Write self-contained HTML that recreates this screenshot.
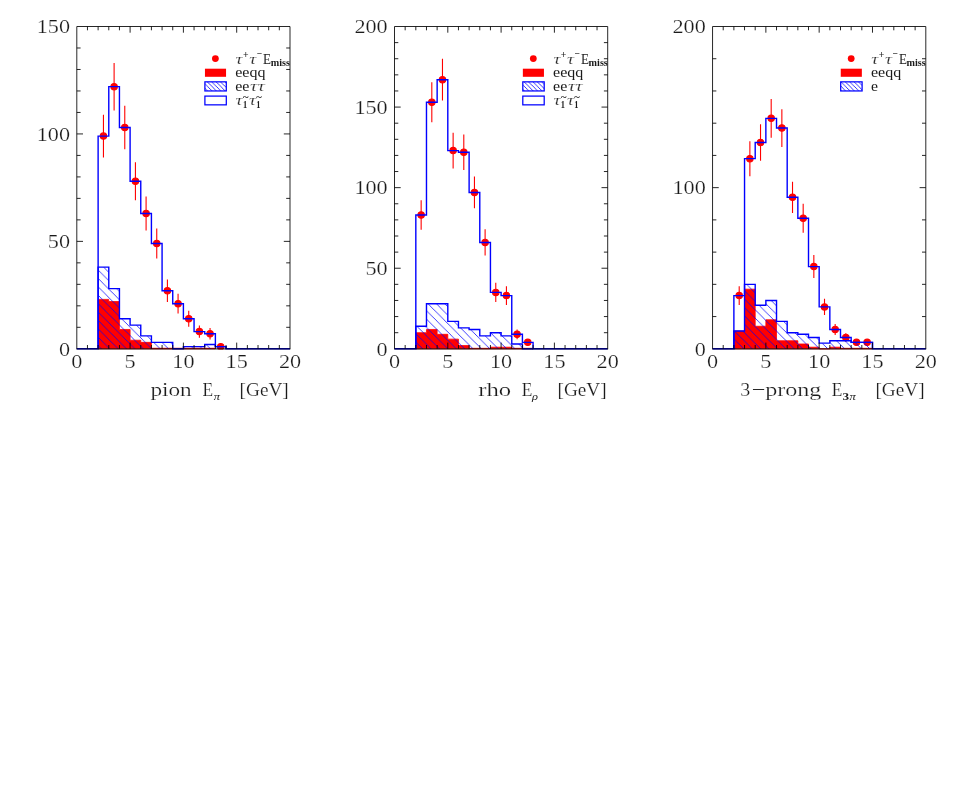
<!DOCTYPE html>
<html><head><meta charset="utf-8"><title>tau energy spectra</title>
<style>
html,body{margin:0;padding:0;background:#fff;}
body{width:953px;height:807px;overflow:hidden;}
svg{display:block;will-change:transform;}
text{font-family:"Liberation Serif",serif;fill:#1a1a1a;}
.t{stroke:#fff;stroke-width:0.2px;}
.g{stroke:#fff;stroke-width:0.15px;fill:#2a2a2a;}
</style></head><body>
<svg width="953" height="807" viewBox="0 0 953 807">
<defs>
<pattern id="h0" patternUnits="userSpaceOnUse" x="0" y="3.9" width="8.4" height="8.4"><path d="M-1 -1 L9.4 9.4 M-1 7.4 L1 9.4 M7.4 -1 L9.4 1" stroke="#0000ff" stroke-width="0.75" fill="none"/></pattern>
<pattern id="h1" patternUnits="userSpaceOnUse" x="0" y="1.77" width="8.4" height="8.4"><path d="M-1 -1 L9.4 9.4 M-1 7.4 L1 9.4 M7.4 -1 L9.4 1" stroke="#0000ff" stroke-width="0.75" fill="none"/></pattern>
<pattern id="h2" patternUnits="userSpaceOnUse" x="0" y="8.2" width="8.4" height="8.4"><path d="M-1 -1 L9.4 9.4 M-1 7.4 L1 9.4 M7.4 -1 L9.4 1" stroke="#0000ff" stroke-width="0.75" fill="none"/></pattern>
<pattern id="hl" patternUnits="userSpaceOnUse" x="2.3" y="0" width="4.4" height="4.4"><path d="M-1 -1 L5.4 5.4 M-1 3.4 L1 5.4 M3.4 -1 L5.4 1" stroke="#0000ff" stroke-width="0.8" fill="none"/></pattern>
</defs>
<clipPath id="c0"><rect x="76.8" y="26.5" width="213.2" height="322.9"/></clipPath>
<g fill="#ff0000" stroke="#ff0000" stroke-width="1.1" clip-path="url(#c0)"><line x1="103.45" y1="114.7" x2="103.45" y2="157.46"/><circle cx="103.45" cy="136.08" r="3.2"/><line x1="114.11" y1="62.93" x2="114.11" y2="110.4"/><circle cx="114.11" cy="86.66" r="3.2"/><line x1="124.77" y1="105.68" x2="124.77" y2="149.29"/><circle cx="124.77" cy="127.49" r="3.2"/><line x1="135.43" y1="162.23" x2="135.43" y2="200.18"/><circle cx="135.43" cy="181.2" r="3.2"/><line x1="146.09" y1="196.38" x2="146.09" y2="230.49"/><circle cx="146.09" cy="213.43" r="3.2"/><line x1="156.75" y1="228.47" x2="156.75" y2="258.56"/><circle cx="156.75" cy="243.52" r="3.2"/><line x1="167.41" y1="279.62" x2="167.41" y2="301.95"/><circle cx="167.41" cy="290.79" r="3.2"/><line x1="178.07" y1="293.83" x2="178.07" y2="313.52"/><circle cx="178.07" cy="303.68" r="3.2"/><line x1="188.73" y1="310.68" x2="188.73" y2="326.76"/><circle cx="188.73" cy="318.72" r="3.2"/><line x1="199.39" y1="325.53" x2="199.39" y2="337.69"/><circle cx="199.39" cy="331.61" r="3.2"/><line x1="210.05" y1="328.07" x2="210.05" y2="339.44"/><circle cx="210.05" cy="333.76" r="3.2"/><line x1="220.71" y1="344.5" x2="220.71" y2="348.8"/><circle cx="220.71" cy="346.65" r="3.2"/></g>
<path d="M98.12 348.8 L98.12 299.38 L108.78 299.38 L108.78 301.53 L119.44 301.53 L119.44 329.46 L130.1 329.46 L130.1 340.21 L140.76 340.21 L140.76 342.35 L151.42 342.35 L151.42 348.26 L162.08 348.26 L162.08 348.26 L172.74 348.26 L172.74 348.26 L183.4 348.26 L183.4 348.26 L194.06 348.26 L194.06 348.26 L204.72 348.26 L204.72 348.26 L215.38 348.26 L215.38 348.8 Z" fill="#ff0000" stroke="#ff0000" stroke-width="0.8"/>
<path d="M98.12 348.8 L98.12 267.15 L108.78 267.15 L108.78 288.64 L119.44 288.64 L119.44 318.72 L130.1 318.72 L130.1 325.16 L140.76 325.16 L140.76 335.91 L151.42 335.91 L151.42 342.35 L162.08 342.35 L162.08 342.35 L172.74 342.35 L172.74 348.8 L183.4 348.8 L183.4 346.65 L194.06 346.65 L194.06 346.65 L204.72 346.65 L204.72 344.5 L215.38 344.5 L215.38 346.65 L226.04 346.65 L226.04 348.8 Z" fill="url(#h0)"/>
<path d="M98.12 348.8 L98.12 267.15 L108.78 267.15 L108.78 288.64 L119.44 288.64 L119.44 318.72 L130.1 318.72 L130.1 325.16 L140.76 325.16 L140.76 335.91 L151.42 335.91 L151.42 342.35 L162.08 342.35 L162.08 342.35 L172.74 342.35 L172.74 348.8 L183.4 348.8 L183.4 346.65 L194.06 346.65 L194.06 346.65 L204.72 346.65 L204.72 344.5 L215.38 344.5 L215.38 346.65 L226.04 346.65 L226.04 348.8" fill="none" stroke="#0000ff" stroke-width="1.4" stroke-linejoin="miter"/>
<path d="M76.8 348.8 L98.12 348.8 L98.12 136.08 L108.78 136.08 L108.78 86.66 L119.44 86.66 L119.44 127.49 L130.1 127.49 L130.1 181.2 L140.76 181.2 L140.76 213.43 L151.42 213.43 L151.42 243.52 L162.08 243.52 L162.08 290.79 L172.74 290.79 L172.74 303.68 L183.4 303.68 L183.4 318.72 L194.06 318.72 L194.06 331.61 L204.72 331.61 L204.72 333.76 L215.38 333.76 L215.38 346.65 L226.04 346.65 L226.04 348.8 L290 348.8" fill="none" stroke="#0000ff" stroke-width="1.4" stroke-linejoin="miter"/>
<path d="M76.4 348.9 H290.4" fill="none" stroke="#000" stroke-opacity="0.55" stroke-width="1.9"/>
<path d="M76.8 348.8 V26.5 H290 V348.8 M87.46 348.8 v-3.8 M87.46 26.5 v3.8 M98.12 348.8 v-3.8 M98.12 26.5 v3.8 M108.78 348.8 v-3.8 M108.78 26.5 v3.8 M119.44 348.8 v-3.8 M119.44 26.5 v3.8 M130.1 348.8 v-6.2 M130.1 26.5 v6.2 M140.76 348.8 v-3.8 M140.76 26.5 v3.8 M151.42 348.8 v-3.8 M151.42 26.5 v3.8 M162.08 348.8 v-3.8 M162.08 26.5 v3.8 M172.74 348.8 v-3.8 M172.74 26.5 v3.8 M183.4 348.8 v-6.2 M183.4 26.5 v6.2 M194.06 348.8 v-3.8 M194.06 26.5 v3.8 M204.72 348.8 v-3.8 M204.72 26.5 v3.8 M215.38 348.8 v-3.8 M215.38 26.5 v3.8 M226.04 348.8 v-3.8 M226.04 26.5 v3.8 M236.7 348.8 v-6.2 M236.7 26.5 v6.2 M247.36 348.8 v-3.8 M247.36 26.5 v3.8 M258.02 348.8 v-3.8 M258.02 26.5 v3.8 M268.68 348.8 v-3.8 M268.68 26.5 v3.8 M279.34 348.8 v-3.8 M279.34 26.5 v3.8 M76.8 327.31 h3.8 M290 327.31 h-3.8 M76.8 305.83 h3.8 M290 305.83 h-3.8 M76.8 284.34 h3.8 M290 284.34 h-3.8 M76.8 262.85 h3.8 M290 262.85 h-3.8 M76.8 241.37 h6.2 M290 241.37 h-6.2 M76.8 219.88 h3.8 M290 219.88 h-3.8 M76.8 198.39 h3.8 M290 198.39 h-3.8 M76.8 176.91 h3.8 M290 176.91 h-3.8 M76.8 155.42 h3.8 M290 155.42 h-3.8 M76.8 133.93 h6.2 M290 133.93 h-6.2 M76.8 112.45 h3.8 M290 112.45 h-3.8 M76.8 90.96 h3.8 M290 90.96 h-3.8 M76.8 69.47 h3.8 M290 69.47 h-3.8 M76.8 47.99 h3.8 M290 47.99 h-3.8" fill="none" stroke="#000" stroke-width="0.85"/>
<text x="71.25" y="367.8" font-size="18.7" textLength="11.1" lengthAdjust="spacingAndGlyphs" class="t">0</text>
<text x="124.55" y="367.8" font-size="18.7" textLength="11.1" lengthAdjust="spacingAndGlyphs" class="t">5</text>
<text x="172.3" y="367.8" font-size="18.7" textLength="22.2" lengthAdjust="spacingAndGlyphs" class="t">10</text>
<text x="225.6" y="367.8" font-size="18.7" textLength="22.2" lengthAdjust="spacingAndGlyphs" class="t">15</text>
<text x="278.9" y="367.8" font-size="18.7" textLength="22.2" lengthAdjust="spacingAndGlyphs" class="t">20</text>
<text x="58.9" y="355.5" font-size="18.7" textLength="11.1" lengthAdjust="spacingAndGlyphs" class="t">0</text>
<text x="47.8" y="248.07" font-size="18.7" textLength="22.2" lengthAdjust="spacingAndGlyphs" class="t">50</text>
<text x="36.7" y="140.63" font-size="18.7" textLength="33.3" lengthAdjust="spacingAndGlyphs" class="t">100</text>
<text x="36.7" y="33.2" font-size="18.7" textLength="33.3" lengthAdjust="spacingAndGlyphs" class="t">150</text>
<text x="150.4" y="396.4" font-size="19.2" textLength="41.3" lengthAdjust="spacingAndGlyphs" class="t">pion</text>
<text x="202.5" y="396.4" font-size="19.2" textLength="10.6" lengthAdjust="spacingAndGlyphs" class="t">E</text>
<text x="213.7" y="399.6" font-size="10.5" textLength="6.2" lengthAdjust="spacingAndGlyphs" font-style="italic">π</text>
<text x="239.6" y="396.4" font-size="19.2" textLength="49.2" lengthAdjust="spacingAndGlyphs" class="t">[GeV]</text>
<circle cx="215.4" cy="58.6" r="3.4" fill="#ff0000"/>
<rect x="204.95" y="68.7" width="21.1" height="8.1" fill="#ff0000"/>
<rect x="204.9" y="81.85" width="21.4" height="9.1" fill="url(#hl)" stroke="#0000ff" stroke-width="1.25"/>
<rect x="204.9" y="96.1" width="21.4" height="8.75" fill="none" stroke="#0000ff" stroke-width="1.25"/>
<text x="235.5" y="63.6" font-size="15" textLength="7" lengthAdjust="spacingAndGlyphs" font-style="italic" class="g">τ</text>
<text x="242.9" y="57.6" font-size="9.5" textLength="5.6" lengthAdjust="spacingAndGlyphs" font-weight="bold">+</text>
<text x="249.2" y="63.6" font-size="15" textLength="7" lengthAdjust="spacingAndGlyphs" font-style="italic" class="g">τ</text>
<text x="256.7" y="57" font-size="9.5" textLength="5.4" lengthAdjust="spacingAndGlyphs" font-weight="bold">−</text>
<text x="263.1" y="63.6" font-size="14.2" textLength="8" lengthAdjust="spacingAndGlyphs" >E</text>
<text x="270.7" y="65.8" font-size="9.4" textLength="19.2" lengthAdjust="spacingAndGlyphs" font-weight="bold">miss</text>
<text x="235.2" y="77" font-size="14.2" textLength="30.3" lengthAdjust="spacingAndGlyphs" >eeqq</text>
<text x="235.2" y="91.1" font-size="14.2" textLength="14.2" lengthAdjust="spacingAndGlyphs" >ee</text>
<text x="250.1" y="91.1" font-size="15" textLength="14.6" lengthAdjust="spacingAndGlyphs" font-style="italic" class="g">ττ</text>
<text x="235.5" y="105" font-size="15" textLength="7" lengthAdjust="spacingAndGlyphs" font-style="italic" class="g">τ</text>
<text x="242.9" y="107.5" font-size="9.6" textLength="4.2" lengthAdjust="spacingAndGlyphs" font-weight="bold">1</text>
<text x="243.1" y="99.6" font-size="11" textLength="5.6" lengthAdjust="spacingAndGlyphs" font-weight="bold">~</text>
<text x="249.1" y="105" font-size="15" textLength="7" lengthAdjust="spacingAndGlyphs" font-style="italic" class="g">τ</text>
<text x="256.3" y="107.5" font-size="9.6" textLength="4.2" lengthAdjust="spacingAndGlyphs" font-weight="bold">1</text>
<text x="256.3" y="99.6" font-size="11" textLength="5.6" lengthAdjust="spacingAndGlyphs" font-weight="bold">~</text>
<clipPath id="c1"><rect x="394.5" y="26.5" width="213.2" height="322.9"/></clipPath>
<g fill="#ff0000" stroke="#ff0000" stroke-width="1.1" clip-path="url(#c1)"><line x1="421.15" y1="200.36" x2="421.15" y2="229.73"/><circle cx="421.15" cy="215.05" r="3.2"/><line x1="431.81" y1="82.31" x2="431.81" y2="122.17"/><circle cx="431.81" cy="102.24" r="3.2"/><line x1="442.47" y1="58.85" x2="442.47" y2="100.5"/><circle cx="442.47" cy="79.68" r="3.2"/><line x1="453.13" y1="132.71" x2="453.13" y2="168.46"/><circle cx="453.13" cy="150.59" r="3.2"/><line x1="463.79" y1="134.4" x2="463.79" y2="170"/><circle cx="463.79" cy="152.2" r="3.2"/><line x1="474.45" y1="176.61" x2="474.45" y2="208.36"/><circle cx="474.45" cy="192.48" r="3.2"/><line x1="485.11" y1="229.35" x2="485.11" y2="255.53"/><circle cx="485.11" cy="242.44" r="3.2"/><line x1="495.77" y1="282.86" x2="495.77" y2="301.93"/><circle cx="495.77" cy="292.4" r="3.2"/><line x1="506.43" y1="286.36" x2="506.43" y2="304.88"/><circle cx="506.43" cy="295.62" r="3.2"/><line x1="517.09" y1="329.46" x2="517.09" y2="339.13"/><circle cx="517.09" cy="334.3" r="3.2"/><line x1="527.75" y1="339.13" x2="527.75" y2="345.58"/><circle cx="527.75" cy="342.35" r="3.2"/></g>
<path d="M415.82 348.8 L415.82 332.69 L426.48 332.69 L426.48 329.46 L437.14 329.46 L437.14 334.3 L447.8 334.3 L447.8 339.13 L458.46 339.13 L458.46 345.58 L469.12 345.58 L469.12 348.32 L479.78 348.32 L479.78 348.32 L490.44 348.32 L490.44 347.19 L501.1 347.19 L501.1 347.19 L511.76 347.19 L511.76 348.32 L522.42 348.32 L522.42 348.32 L533.08 348.32 L533.08 348.8 Z" fill="#ff0000" stroke="#ff0000" stroke-width="0.8"/>
<path d="M415.82 348.8 L415.82 326.24 L426.48 326.24 L426.48 303.68 L437.14 303.68 L437.14 303.68 L447.8 303.68 L447.8 321.4 L458.46 321.4 L458.46 327.85 L469.12 327.85 L469.12 329.46 L479.78 329.46 L479.78 335.91 L490.44 335.91 L490.44 332.69 L501.1 332.69 L501.1 335.91 L511.76 335.91 L511.76 343.97 L522.42 343.97 L522.42 348.8 L533.08 348.8 L533.08 348.8 Z" fill="url(#h1)"/>
<path d="M415.82 348.8 L415.82 326.24 L426.48 326.24 L426.48 303.68 L437.14 303.68 L437.14 303.68 L447.8 303.68 L447.8 321.4 L458.46 321.4 L458.46 327.85 L469.12 327.85 L469.12 329.46 L479.78 329.46 L479.78 335.91 L490.44 335.91 L490.44 332.69 L501.1 332.69 L501.1 335.91 L511.76 335.91 L511.76 343.97 L522.42 343.97 L522.42 348.8 L533.08 348.8 L533.08 348.8" fill="none" stroke="#0000ff" stroke-width="1.4" stroke-linejoin="miter"/>
<path d="M394.5 348.8 L415.82 348.8 L415.82 215.05 L426.48 215.05 L426.48 102.24 L437.14 102.24 L437.14 79.68 L447.8 79.68 L447.8 150.59 L458.46 150.59 L458.46 152.2 L469.12 152.2 L469.12 192.48 L479.78 192.48 L479.78 242.44 L490.44 242.44 L490.44 292.4 L501.1 292.4 L501.1 295.62 L511.76 295.62 L511.76 334.3 L522.42 334.3 L522.42 342.35 L533.08 342.35 L533.08 348.8 L607.7 348.8" fill="none" stroke="#0000ff" stroke-width="1.4" stroke-linejoin="miter"/>
<path d="M394.1 348.9 H608.1" fill="none" stroke="#000" stroke-opacity="0.55" stroke-width="1.9"/>
<path d="M394.5 348.8 V26.5 H607.7 V348.8 M405.16 348.8 v-3.8 M405.16 26.5 v3.8 M415.82 348.8 v-3.8 M415.82 26.5 v3.8 M426.48 348.8 v-3.8 M426.48 26.5 v3.8 M437.14 348.8 v-3.8 M437.14 26.5 v3.8 M447.8 348.8 v-6.2 M447.8 26.5 v6.2 M458.46 348.8 v-3.8 M458.46 26.5 v3.8 M469.12 348.8 v-3.8 M469.12 26.5 v3.8 M479.78 348.8 v-3.8 M479.78 26.5 v3.8 M490.44 348.8 v-3.8 M490.44 26.5 v3.8 M501.1 348.8 v-6.2 M501.1 26.5 v6.2 M511.76 348.8 v-3.8 M511.76 26.5 v3.8 M522.42 348.8 v-3.8 M522.42 26.5 v3.8 M533.08 348.8 v-3.8 M533.08 26.5 v3.8 M543.74 348.8 v-3.8 M543.74 26.5 v3.8 M554.4 348.8 v-6.2 M554.4 26.5 v6.2 M565.06 348.8 v-3.8 M565.06 26.5 v3.8 M575.72 348.8 v-3.8 M575.72 26.5 v3.8 M586.38 348.8 v-3.8 M586.38 26.5 v3.8 M597.04 348.8 v-3.8 M597.04 26.5 v3.8 M394.5 332.69 h3.8 M607.7 332.69 h-3.8 M394.5 316.57 h3.8 M607.7 316.57 h-3.8 M394.5 300.46 h3.8 M607.7 300.46 h-3.8 M394.5 284.34 h3.8 M607.7 284.34 h-3.8 M394.5 268.23 h6.2 M607.7 268.23 h-6.2 M394.5 252.11 h3.8 M607.7 252.11 h-3.8 M394.5 236 h3.8 M607.7 236 h-3.8 M394.5 219.88 h3.8 M607.7 219.88 h-3.8 M394.5 203.77 h3.8 M607.7 203.77 h-3.8 M394.5 187.65 h6.2 M607.7 187.65 h-6.2 M394.5 171.54 h3.8 M607.7 171.54 h-3.8 M394.5 155.42 h3.8 M607.7 155.42 h-3.8 M394.5 139.31 h3.8 M607.7 139.31 h-3.8 M394.5 123.19 h3.8 M607.7 123.19 h-3.8 M394.5 107.08 h6.2 M607.7 107.08 h-6.2 M394.5 90.96 h3.8 M607.7 90.96 h-3.8 M394.5 74.85 h3.8 M607.7 74.85 h-3.8 M394.5 58.73 h3.8 M607.7 58.73 h-3.8 M394.5 42.62 h3.8 M607.7 42.62 h-3.8" fill="none" stroke="#000" stroke-width="0.85"/>
<text x="388.95" y="367.8" font-size="18.7" textLength="11.1" lengthAdjust="spacingAndGlyphs" class="t">0</text>
<text x="442.25" y="367.8" font-size="18.7" textLength="11.1" lengthAdjust="spacingAndGlyphs" class="t">5</text>
<text x="490" y="367.8" font-size="18.7" textLength="22.2" lengthAdjust="spacingAndGlyphs" class="t">10</text>
<text x="543.3" y="367.8" font-size="18.7" textLength="22.2" lengthAdjust="spacingAndGlyphs" class="t">15</text>
<text x="596.6" y="367.8" font-size="18.7" textLength="22.2" lengthAdjust="spacingAndGlyphs" class="t">20</text>
<text x="376.6" y="355.5" font-size="18.7" textLength="11.1" lengthAdjust="spacingAndGlyphs" class="t">0</text>
<text x="365.5" y="274.93" font-size="18.7" textLength="22.2" lengthAdjust="spacingAndGlyphs" class="t">50</text>
<text x="354.4" y="194.35" font-size="18.7" textLength="33.3" lengthAdjust="spacingAndGlyphs" class="t">100</text>
<text x="354.4" y="113.78" font-size="18.7" textLength="33.3" lengthAdjust="spacingAndGlyphs" class="t">150</text>
<text x="354.4" y="33.2" font-size="18.7" textLength="33.3" lengthAdjust="spacingAndGlyphs" class="t">200</text>
<text x="478.3" y="396.4" font-size="19.2" textLength="32.9" lengthAdjust="spacingAndGlyphs" class="t">rho</text>
<text x="521.7" y="396.4" font-size="19.2" textLength="10.6" lengthAdjust="spacingAndGlyphs" class="t">E</text>
<text x="532" y="399.6" font-size="10.5" textLength="6" lengthAdjust="spacingAndGlyphs" font-style="italic">ρ</text>
<text x="557.5" y="396.4" font-size="19.2" textLength="49.2" lengthAdjust="spacingAndGlyphs" class="t">[GeV]</text>
<circle cx="533.3" cy="58.6" r="3.4" fill="#ff0000"/>
<rect x="522.85" y="68.7" width="21.1" height="8.1" fill="#ff0000"/>
<rect x="522.8" y="81.85" width="21.4" height="9.1" fill="url(#hl)" stroke="#0000ff" stroke-width="1.25"/>
<rect x="522.8" y="96.1" width="21.4" height="8.75" fill="none" stroke="#0000ff" stroke-width="1.25"/>
<text x="553.4" y="63.6" font-size="15" textLength="7" lengthAdjust="spacingAndGlyphs" font-style="italic" class="g">τ</text>
<text x="560.8" y="57.6" font-size="9.5" textLength="5.6" lengthAdjust="spacingAndGlyphs" font-weight="bold">+</text>
<text x="567.1" y="63.6" font-size="15" textLength="7" lengthAdjust="spacingAndGlyphs" font-style="italic" class="g">τ</text>
<text x="574.6" y="57" font-size="9.5" textLength="5.4" lengthAdjust="spacingAndGlyphs" font-weight="bold">−</text>
<text x="581" y="63.6" font-size="14.2" textLength="8" lengthAdjust="spacingAndGlyphs" >E</text>
<text x="588.6" y="65.8" font-size="9.4" textLength="19.2" lengthAdjust="spacingAndGlyphs" font-weight="bold">miss</text>
<text x="553.1" y="77" font-size="14.2" textLength="30.3" lengthAdjust="spacingAndGlyphs" >eeqq</text>
<text x="553.1" y="91.1" font-size="14.2" textLength="14.2" lengthAdjust="spacingAndGlyphs" >ee</text>
<text x="568" y="91.1" font-size="15" textLength="14.6" lengthAdjust="spacingAndGlyphs" font-style="italic" class="g">ττ</text>
<text x="553.4" y="105" font-size="15" textLength="7" lengthAdjust="spacingAndGlyphs" font-style="italic" class="g">τ</text>
<text x="560.8" y="107.5" font-size="9.6" textLength="4.2" lengthAdjust="spacingAndGlyphs" font-weight="bold">1</text>
<text x="561" y="99.6" font-size="11" textLength="5.6" lengthAdjust="spacingAndGlyphs" font-weight="bold">~</text>
<text x="567" y="105" font-size="15" textLength="7" lengthAdjust="spacingAndGlyphs" font-style="italic" class="g">τ</text>
<text x="574.2" y="107.5" font-size="9.6" textLength="4.2" lengthAdjust="spacingAndGlyphs" font-weight="bold">1</text>
<text x="574.2" y="99.6" font-size="11" textLength="5.6" lengthAdjust="spacingAndGlyphs" font-weight="bold">~</text>
<clipPath id="c2"><rect x="712.55" y="26.5" width="213.25" height="322.9"/></clipPath>
<g fill="#ff0000" stroke="#ff0000" stroke-width="1.1" clip-path="url(#c2)"><line x1="739.21" y1="286.36" x2="739.21" y2="304.88"/><circle cx="739.21" cy="295.62" r="3.2"/><line x1="749.87" y1="141.14" x2="749.87" y2="176.15"/><circle cx="749.87" cy="158.64" r="3.2"/><line x1="760.53" y1="124.3" x2="760.53" y2="160.76"/><circle cx="760.53" cy="142.53" r="3.2"/><line x1="771.19" y1="99.08" x2="771.19" y2="137.63"/><circle cx="771.19" cy="118.36" r="3.2"/><line x1="781.86" y1="109.16" x2="781.86" y2="146.89"/><circle cx="781.86" cy="128.02" r="3.2"/><line x1="792.52" y1="181.69" x2="792.52" y2="212.94"/><circle cx="792.52" cy="197.32" r="3.2"/><line x1="803.18" y1="203.77" x2="803.18" y2="232.77"/><circle cx="803.18" cy="218.27" r="3.2"/><line x1="813.84" y1="255.11" x2="813.84" y2="278.12"/><circle cx="813.84" cy="266.61" r="3.2"/><line x1="824.51" y1="298.68" x2="824.51" y2="315.12"/><circle cx="824.51" cy="306.9" r="3.2"/><line x1="835.17" y1="323.88" x2="835.17" y2="335.04"/><circle cx="835.17" cy="329.46" r="3.2"/><line x1="845.83" y1="333.26" x2="845.83" y2="341.78"/><circle cx="845.83" cy="337.52" r="3.2"/><line x1="856.49" y1="339.13" x2="856.49" y2="345.58"/><circle cx="856.49" cy="342.35" r="3.2"/><line x1="867.16" y1="339.13" x2="867.16" y2="345.58"/><circle cx="867.16" cy="342.35" r="3.2"/></g>
<path d="M733.88 348.8 L733.88 331.07 L744.54 331.07 L744.54 289.17 L755.2 289.17 L755.2 326.24 L765.86 326.24 L765.86 319.79 L776.52 319.79 L776.52 340.74 L787.19 340.74 L787.19 340.74 L797.85 340.74 L797.85 343.97 L808.51 343.97 L808.51 347.19 L819.17 347.19 L819.17 348.8 L829.84 348.8 L829.84 347.19 L840.5 347.19 L840.5 348.32 L851.16 348.32 L851.16 348.32 L861.82 348.32 L861.82 348.32 L872.49 348.32 L872.49 348.8 Z" fill="#ff0000" stroke="#ff0000" stroke-width="0.8"/>
<path d="M733.88 348.8 L733.88 331.07 L744.54 331.07 L744.54 284.34 L755.2 284.34 L755.2 305.29 L765.86 305.29 L765.86 300.46 L776.52 300.46 L776.52 321.4 L787.19 321.4 L787.19 332.69 L797.85 332.69 L797.85 334.3 L808.51 334.3 L808.51 337.52 L819.17 337.52 L819.17 343.16 L829.84 343.16 L829.84 340.74 L840.5 340.74 L840.5 340.74 L851.16 340.74 L851.16 342.35 L861.82 342.35 L861.82 342.35 L872.49 342.35 L872.49 348.8 Z" fill="url(#h2)"/>
<path d="M733.88 348.8 L733.88 331.07 L744.54 331.07 L744.54 284.34 L755.2 284.34 L755.2 305.29 L765.86 305.29 L765.86 300.46 L776.52 300.46 L776.52 321.4 L787.19 321.4 L787.19 332.69 L797.85 332.69 L797.85 334.3 L808.51 334.3 L808.51 337.52 L819.17 337.52 L819.17 343.16 L829.84 343.16 L829.84 340.74 L840.5 340.74 L840.5 340.74 L851.16 340.74 L851.16 342.35 L861.82 342.35 L861.82 342.35 L872.49 342.35 L872.49 348.8" fill="none" stroke="#0000ff" stroke-width="1.4" stroke-linejoin="miter"/>
<path d="M712.55 348.8 L733.88 348.8 L733.88 295.62 L744.54 295.62 L744.54 158.64 L755.2 158.64 L755.2 142.53 L765.86 142.53 L765.86 118.36 L776.52 118.36 L776.52 128.02 L787.19 128.02 L787.19 197.32 L797.85 197.32 L797.85 218.27 L808.51 218.27 L808.51 266.61 L819.17 266.61 L819.17 306.9 L829.84 306.9 L829.84 329.46 L840.5 329.46 L840.5 337.52 L851.16 337.52 L851.16 342.35 L861.82 342.35 L861.82 342.35 L872.49 342.35 L872.49 348.8 L925.8 348.8" fill="none" stroke="#0000ff" stroke-width="1.4" stroke-linejoin="miter"/>
<path d="M712.15 348.9 H926.2" fill="none" stroke="#000" stroke-opacity="0.55" stroke-width="1.9"/>
<path d="M712.55 348.8 V26.5 H925.8 V348.8 M723.21 348.8 v-3.8 M723.21 26.5 v3.8 M733.88 348.8 v-3.8 M733.88 26.5 v3.8 M744.54 348.8 v-3.8 M744.54 26.5 v3.8 M755.2 348.8 v-3.8 M755.2 26.5 v3.8 M765.86 348.8 v-6.2 M765.86 26.5 v6.2 M776.52 348.8 v-3.8 M776.52 26.5 v3.8 M787.19 348.8 v-3.8 M787.19 26.5 v3.8 M797.85 348.8 v-3.8 M797.85 26.5 v3.8 M808.51 348.8 v-3.8 M808.51 26.5 v3.8 M819.17 348.8 v-6.2 M819.17 26.5 v6.2 M829.84 348.8 v-3.8 M829.84 26.5 v3.8 M840.5 348.8 v-3.8 M840.5 26.5 v3.8 M851.16 348.8 v-3.8 M851.16 26.5 v3.8 M861.82 348.8 v-3.8 M861.82 26.5 v3.8 M872.49 348.8 v-6.2 M872.49 26.5 v6.2 M883.15 348.8 v-3.8 M883.15 26.5 v3.8 M893.81 348.8 v-3.8 M893.81 26.5 v3.8 M904.47 348.8 v-3.8 M904.47 26.5 v3.8 M915.14 348.8 v-3.8 M915.14 26.5 v3.8 M712.55 316.57 h3.8 M925.8 316.57 h-3.8 M712.55 284.34 h3.8 M925.8 284.34 h-3.8 M712.55 252.11 h3.8 M925.8 252.11 h-3.8 M712.55 219.88 h3.8 M925.8 219.88 h-3.8 M712.55 187.65 h6.2 M925.8 187.65 h-6.2 M712.55 155.42 h3.8 M925.8 155.42 h-3.8 M712.55 123.19 h3.8 M925.8 123.19 h-3.8 M712.55 90.96 h3.8 M925.8 90.96 h-3.8 M712.55 58.73 h3.8 M925.8 58.73 h-3.8" fill="none" stroke="#000" stroke-width="0.85"/>
<text x="707" y="367.8" font-size="18.7" textLength="11.1" lengthAdjust="spacingAndGlyphs" class="t">0</text>
<text x="760.31" y="367.8" font-size="18.7" textLength="11.1" lengthAdjust="spacingAndGlyphs" class="t">5</text>
<text x="808.07" y="367.8" font-size="18.7" textLength="22.2" lengthAdjust="spacingAndGlyphs" class="t">10</text>
<text x="861.39" y="367.8" font-size="18.7" textLength="22.2" lengthAdjust="spacingAndGlyphs" class="t">15</text>
<text x="914.7" y="367.8" font-size="18.7" textLength="22.2" lengthAdjust="spacingAndGlyphs" class="t">20</text>
<text x="694.65" y="355.5" font-size="18.7" textLength="11.1" lengthAdjust="spacingAndGlyphs" class="t">0</text>
<text x="672.45" y="194.35" font-size="18.7" textLength="33.3" lengthAdjust="spacingAndGlyphs" class="t">100</text>
<text x="672.45" y="33.2" font-size="18.7" textLength="33.3" lengthAdjust="spacingAndGlyphs" class="t">200</text>
<text x="740.2" y="396.4" font-size="19.2" textLength="10" lengthAdjust="spacingAndGlyphs" class="t">3</text>
<text x="751.7" y="396.4" font-size="19.2" textLength="13.6" lengthAdjust="spacingAndGlyphs" >−</text>
<text x="765.2" y="396.4" font-size="19.2" textLength="56.2" lengthAdjust="spacingAndGlyphs" class="t">prong</text>
<text x="831.7" y="396.4" font-size="19.2" textLength="10.6" lengthAdjust="spacingAndGlyphs" class="t">E</text>
<text x="842.4" y="399.6" font-size="9.5" textLength="6.6" lengthAdjust="spacingAndGlyphs" font-weight="bold">3</text>
<text x="849.4" y="399.6" font-size="10.5" textLength="6.3" lengthAdjust="spacingAndGlyphs" font-style="italic">π</text>
<text x="875.4" y="396.4" font-size="19.2" textLength="49.2" lengthAdjust="spacingAndGlyphs" class="t">[GeV]</text>
<circle cx="851.2" cy="58.6" r="3.4" fill="#ff0000"/>
<rect x="840.75" y="68.7" width="21.1" height="8.1" fill="#ff0000"/>
<rect x="840.7" y="81.85" width="21.4" height="9.1" fill="url(#hl)" stroke="#0000ff" stroke-width="1.25"/>
<text x="871.3" y="63.6" font-size="15" textLength="7" lengthAdjust="spacingAndGlyphs" font-style="italic" class="g">τ</text>
<text x="878.7" y="57.6" font-size="9.5" textLength="5.6" lengthAdjust="spacingAndGlyphs" font-weight="bold">+</text>
<text x="885" y="63.6" font-size="15" textLength="7" lengthAdjust="spacingAndGlyphs" font-style="italic" class="g">τ</text>
<text x="892.5" y="57" font-size="9.5" textLength="5.4" lengthAdjust="spacingAndGlyphs" font-weight="bold">−</text>
<text x="898.9" y="63.6" font-size="14.2" textLength="8" lengthAdjust="spacingAndGlyphs" >E</text>
<text x="906.5" y="65.8" font-size="9.4" textLength="19.2" lengthAdjust="spacingAndGlyphs" font-weight="bold">miss</text>
<text x="871" y="77" font-size="14.2" textLength="30.3" lengthAdjust="spacingAndGlyphs" >eeqq</text>
<text x="871" y="91.1" font-size="14.2" textLength="7" lengthAdjust="spacingAndGlyphs" >e</text>
</svg>
</body></html>
